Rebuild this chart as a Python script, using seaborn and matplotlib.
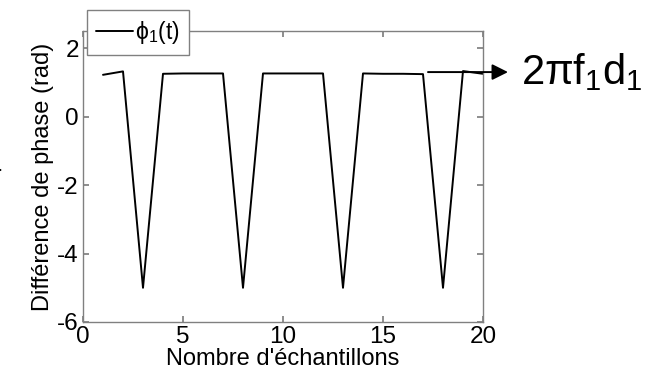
import seaborn as sns
import matplotlib
matplotlib.use("Agg")
import matplotlib.pyplot as plt

# values
samples = list(range(1, 21))
phase = [1.22, 1.32, -5.0, 1.25, 1.26, 1.26, 1.26, -5.0, 1.26, 1.26,
         1.26, 1.26, -5.0, 1.26, 1.25, 1.25, 1.24, -5.0, 1.33, 1.25]
x_ticks = [0, 5, 10, 15, 20]
y_ticks = [-6, -4, -2, 0, 2]

sns.set_theme(style="ticks")
plt.rcParams["font.family"] = ["Liberation Sans", "DejaVu Sans"]
plt.rcParams["mathtext.fontset"] = "custom"
plt.rcParams["mathtext.rm"] = "Liberation Sans"
plt.rcParams["mathtext.it"] = "Liberation Sans"
plt.rcParams["mathtext.bf"] = "Liberation Sans"
plt.rcParams["mathtext.default"] = "regular"
plt.rcParams["axes.unicode_minus"] = False
plt.rcParams["text.color"] = "black"
plt.rcParams["axes.labelcolor"] = "black"

fig = plt.figure(figsize=(6.5, 3.79), dpi=100)
ax = fig.add_axes([83 / 650, 1 - 322 / 379, 400 / 650, 291 / 379])

sns.lineplot(x=samples, y=phase, color="black", linewidth=1.4, ax=ax,
             label=r"$\phi_1(t)$")

ax.set_xlim(0, 20)
ax.set_ylim(-6, 2.5)
ax.set_xticks(x_ticks)
ax.set_yticks(y_ticks)
ax.tick_params(direction="in", length=4, color="#808080", labelsize=17.5,
               labelcolor="black", top=True, right=True, pad=3)
for s in ax.spines.values():
    s.set_color("#808080")
    s.set_linewidth(1.0)

ax.set_xlabel("Nombre d'échantillons", fontsize=17, labelpad=0)
ax.set_ylabel("Différence de phase (rad)", fontsize=17, labelpad=2)

leg = ax.legend(loc="upper left", bbox_to_anchor=(87 / 650, 1 - 10 / 379),
                bbox_transform=fig.transFigure, fontsize=16.5, fancybox=False,
                framealpha=1, edgecolor="#808080", handlelength=1.6,
                handletextpad=0.1, borderpad=0.4, borderaxespad=0)
leg.get_frame().set_linewidth(1.0)

# annotation arrow on the right
ax.annotate("", xy=(21.25, 1.3), xytext=(17.25, 1.3), annotation_clip=False,
            arrowprops=dict(arrowstyle="-|>", color="black", lw=1.4,
                            mutation_scale=24, shrinkA=0, shrinkB=0))
ax.text(21.9, 1.3, r"$2\pi f_1 d_1$", fontsize=30, va="center", ha="left",
        clip_on=False)

# small arrow cut off at the left edge
fig.patches.append(matplotlib.patches.FancyArrowPatch(
    (-10 / 650, 1 - 170 / 379), (5 / 650, 1 - 170 / 379),
    transform=fig.transFigure, arrowstyle="-|>", mutation_scale=12,
    color="black", lw=1.0))

plt.savefig("out.png", dpi=100)
